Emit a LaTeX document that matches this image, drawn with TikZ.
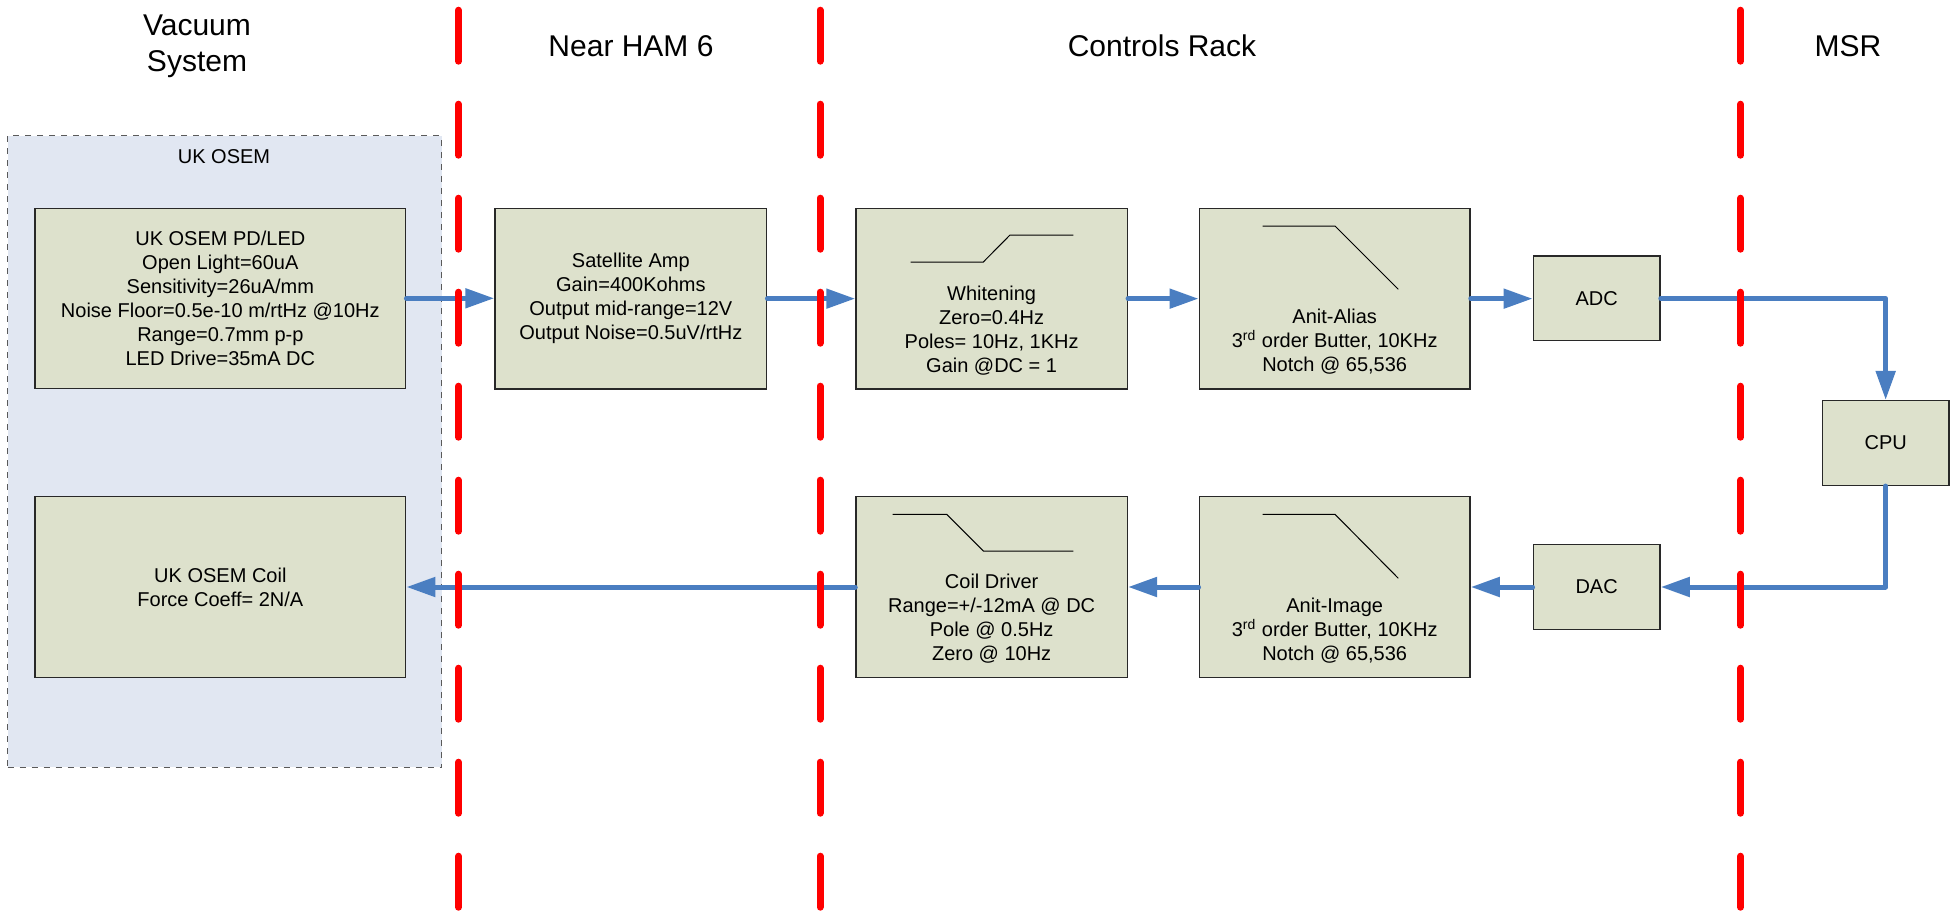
\documentclass[tikz,border=0pt]{standalone}
\usepackage{fontspec}
\setmainfont{Liberation Sans}
\usetikzlibrary{arrows.meta}
\definecolor{boxfill}{RGB}{221,225,204}
\definecolor{boxline}{RGB}{40,40,40}
\definecolor{contfill}{RGB}{225,231,242}
\definecolor{contline}{RGB}{90,90,90}
\definecolor{arrblue}{RGB}{74,126,193}
\definecolor{sepred}{RGB}{255,0,0}
\tikzset{
  blk/.style={draw=boxline, fill=boxfill, line width=0.75pt, inner sep=0pt},
  txt/.style={align=center, font=\fontsize{10}{12}\selectfont, inner sep=0pt},
  head/.style={align=center, font=\fontsize{15}{18}\selectfont, inner sep=0pt},
  arr/.style={draw=arrblue, line width=2.5pt, line cap=round, line join=round,
    -{Triangle[length=14.5pt,width=9.5pt]}},
  sep/.style={draw=sepred, line width=3.5pt, line cap=round, dash pattern=on 25.5pt off 21.5pt},
  sketch/.style={draw=black, line width=0.5pt}
}
\begin{document}
\begin{tikzpicture}[x=0.5pt,y=-0.5pt]
\useasboundingbox (0,0) rectangle (1959,915);
% container
\node[draw=contline, fill=contfill, dashed, line width=0.5pt, minimum width=217.1pt, minimum height=315.65pt, inner sep=0pt] (cont) at (224.6,451.65) {};
\node[txt] (contlbl) at (224,157) {UK OSEM};
% headings
\node[head] (h1) at (197,46) {Vacuum\\System};
\node[head] (h2) at (631,46) {Near HAM 6};
\node[head] (h3) at (1162,46) {Controls Rack};
\node[head] (h4) at (1848,46) {MSR};
% blocks
\node[blk, minimum width=185.35pt, minimum height=90pt, txt] (pd) at (220.35,298.3)
  {UK OSEM PD/LED\\Open Light=60uA\\Sensitivity=26uA/mm\\Noise Floor=0.5e-10 m/rtHz @10Hz\\Range=0.7mm p-p\\LED Drive=35mA DC};
\node[blk, minimum width=185.35pt, minimum height=90.3pt, txt] (coil) at (220.35,587)
  {UK OSEM Coil\\Force Coeff= 2N/A};
\node[blk, minimum width=135.85pt, minimum height=90.35pt, txt] (sat) at (630.85,298.65)
  {Satellite Amp\\Gain=400Kohms\\Output mid-range=12V\\Output Noise=0.5uV/rtHz};
\node[blk, minimum width=135.65pt, minimum height=90.35pt] (wh) at (991.65,298.65) {};
\node[txt] (whtxt) at (991.65,330.4) {Whitening\\Zero=0.4Hz\\Poles= 10Hz, 1KHz\\Gain @DC = 1};
\node[blk, minimum width=135.35pt, minimum height=90.35pt] (aa) at (1334.65,298.65) {};
\node[txt] (aatxt) at (1334.65,342) {Anit-Alias\\3\textsuperscript{rd} order Butter, 10KHz\\Notch @ 65,536};
\node[blk, minimum width=63.35pt, minimum height=42.35pt, txt] (adc) at (1596.65,298.35) {ADC};
\node[blk, minimum width=63.35pt, minimum height=42.3pt, txt] (cpu) at (1885.65,443) {CPU};
\node[blk, minimum width=63.35pt, minimum height=42.3pt, txt] (dac) at (1596.65,587) {DAC};
\node[blk, minimum width=135.35pt, minimum height=90.3pt] (ai) at (1334.65,587) {};
\node[txt] (aitxt) at (1334.65,630.8) {Anit-Image\\3\textsuperscript{rd} order Butter, 10KHz\\Notch @ 65,536};
\node[blk, minimum width=135.65pt, minimum height=90.3pt] (cd) at (991.65,587) {};
\node[txt] (cdtxt) at (991.65,618.4) {Coil Driver\\Range=+/-12mA @ DC\\Pole @ 0.5Hz\\Zero @ 10Hz};
% filter sketches
\draw[sketch] (910.7,262) -- (983.3,262) -- (1010,235) -- (1073.3,235);
\draw[sketch] (1262.7,226) -- (1335,226) -- (1398.3,289.3);
\draw[sketch] (892.7,514.3) -- (946.7,514.3) -- (983.3,551) -- (1073.3,551);
\draw[sketch] (1262.7,514.3) -- (1335,514.3) -- (1398.3,578.3);
% connectors
\draw[arr] (pd.east) -- (pd.east -| sat.west);
\draw[arr] (sat.east) -- (wh.west);
\draw[arr] (wh.east) -- (aa.west);
\draw[arr] (aa.east) -- (aa.east -| adc.west);
\draw[arr] (adc.east) -| (cpu.north);
\draw[arr] (cpu.south) |- (dac.east);
\draw[arr] (dac.west) -- (dac.west -| ai.east);
\draw[arr] (ai.west) -- (cd.east);
\draw[arr] (cd.west) -- (cd.west -| coil.east);
% separators
\coordinate (s1t) at (458.5,10.2); \coordinate (s1b) at (458.5,915);
\coordinate (s2t) at (820,10.2);   \coordinate (s2b) at (820,915);
\coordinate (s3t) at (1740.5,10.2);\coordinate (s3b) at (1740.5,915);
\draw[sep] (s1t) -- (s1b);
\draw[sep] (s2t) -- (s2b);
\draw[sep] (s3t) -- (s3b);
\end{tikzpicture}
\end{document}
